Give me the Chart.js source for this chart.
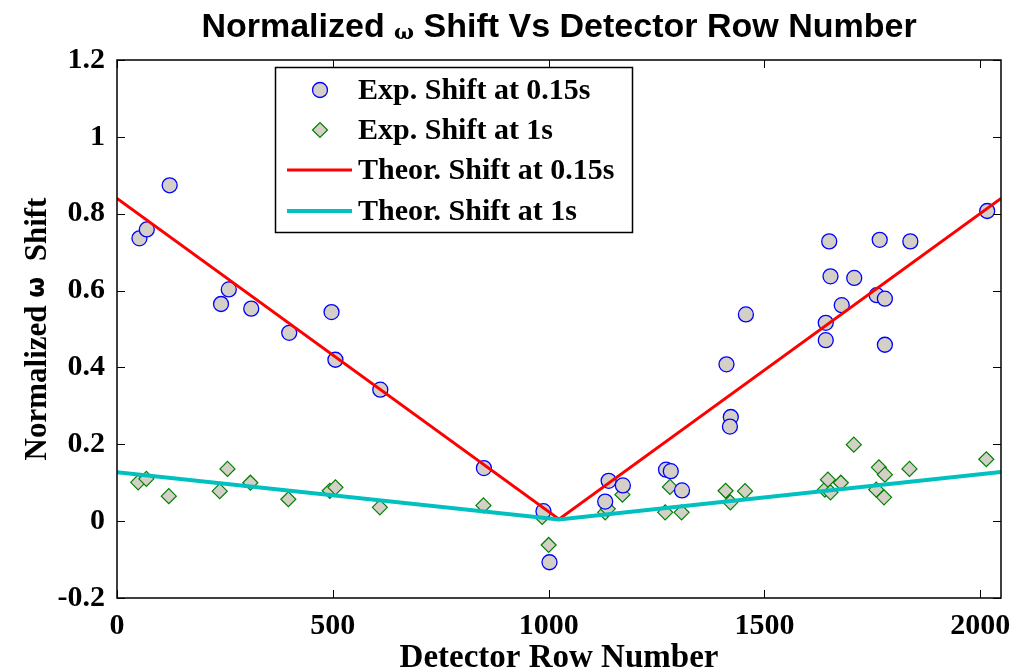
<!DOCTYPE html>
<html lang="en">
<head>
<meta charset="UTF-8">
<title>Normalized ω Shift Vs Detector Row Number</title>
<script src="https://cdn.jsdelivr.net/npm/chart.js@4.4.0/dist/chart.umd.min.js"></script>
<style>
  body { margin: 0; background: #fff; }
</style>
</head>
<body>
<canvas id="shiftChart" width="1015" height="672"></canvas>
<script>
  // experimental shift at 0.15s (circles)
  const rowsFast = [52, 69, 122, 241, 259, 311, 399, 497, 506, 610, 850, 988, 1002, 1139, 1131, 1172, 1272, 1283, 1309,
    1412, 1422, 1420, 1457, 1650, 1653, 1708, 1679, 1642, 1642, 1767, 1760, 1779, 1779, 1838, 2016];
  const shiftFast = [0.736, 0.759, 0.874, 0.565, 0.603, 0.553, 0.490, 0.544, 0.420, 0.342, 0.138, 0.026, -0.107, 0.105, 0.051, 0.093, 0.134, 0.130, 0.080,
    0.408, 0.271, 0.246, 0.538, 0.728, 0.637, 0.633, 0.562, 0.516, 0.471, 0.732, 0.588, 0.579, 0.459, 0.728, 0.807];

  // experimental shift at 1s (diamonds)
  const rowsSlow = [49, 68, 120, 238, 256, 309, 397, 493, 506, 609, 849, 985, 1000, 1131, 1137, 1171, 1270, 1281, 1308,
    1410, 1421, 1455, 1640, 1647, 1653, 1677, 1707, 1765, 1779, 1759, 1777, 1836, 2014];
  const shiftSlow = [0.101, 0.110, 0.065, 0.078, 0.136, 0.100, 0.057, 0.079, 0.088, 0.036, 0.041, 0.011, -0.062, 0.023, 0.032, 0.069, 0.023, 0.089, 0.023,
    0.079, 0.049, 0.078, 0.082, 0.108, 0.075, 0.100, 0.199, 0.140, 0.121, 0.082, 0.062, 0.136, 0.161];

  // theoretical curves
  const theoryRows = [0, 1024, 2048];
  const theoryFast = [0.84, 0.005, 0.84];
  const theorySlow = [0.127, 0.004, 0.128];

  const xTicks = [0, 500, 1000, 1500, 2000];
  const yTicks = [-0.2, 0, 0.2, 0.4, 0.6, 0.8, 1, 1.2];

  const seriesLabels = ['Exp. Shift at 0.15s', 'Exp. Shift at 1s', 'Theor. Shift at 0.15s', 'Theor. Shift at 1s'];

  const markerFill = 'rgb(212,208,200)';
  const serif = '"Liberation Serif", "Times New Roman", serif';
  const sans = '"Liberation Sans", Arial, sans-serif';

  function pairs(xs, ys) {
    return xs.map((x, i) => ({ x: x, y: ys[i] }));
  }

  // draws a line of text made of pieces with different fonts, centred on cx
  function drawPieces(ctx, pieces, cx, cy) {
    let total = 0;
    pieces.forEach(p => { ctx.font = p.font; total += ctx.measureText(p.text).width; });
    let x = cx - total / 2;
    ctx.textAlign = 'left';
    ctx.textBaseline = 'alphabetic';
    pieces.forEach(p => {
      ctx.font = p.font;
      ctx.fillText(p.text, x, cy + (p.dy || 0));
      x += ctx.measureText(p.text).width;
    });
  }

  const framePlugin = {
    id: 'frame',
    afterDatasetsDraw(chart) {
      const ctx = chart.ctx;
      const a = chart.chartArea;
      const xs = chart.scales.x, ys = chart.scales.y;
      ctx.save();
      ctx.strokeStyle = '#000';
      ctx.lineWidth = 1.5;
      ctx.strokeRect(a.left, a.top, a.right - a.left, a.bottom - a.top);

      // inward ticks on all four sides
      ctx.lineWidth = 1;
      ctx.beginPath();
      xs.ticks.forEach(t => {
        const px = Math.round(xs.getPixelForValue(t.value)) + 0.5;
        ctx.moveTo(px, a.bottom); ctx.lineTo(px, a.bottom - 8);
        ctx.moveTo(px, a.top); ctx.lineTo(px, a.top + 8);
      });
      ys.ticks.forEach(t => {
        const py = Math.round(ys.getPixelForValue(t.value)) + 0.5;
        ctx.moveTo(a.left, py); ctx.lineTo(a.left + 8, py);
        ctx.moveTo(a.right, py); ctx.lineTo(a.right - 8, py);
      });
      ctx.stroke();

      // legend box
      const lx = 275, ly = 67, lw = 357, lh = 165;
      ctx.fillStyle = '#fff';
      ctx.fillRect(lx, ly, lw, lh);
      ctx.strokeStyle = '#000';
      ctx.lineWidth = 1.5;
      ctx.strokeRect(lx + 0.5, ly + 0.5, lw, lh);
      const rows = [90, 130, 170, 211];
      chart.data.datasets.forEach((ds, i) => {
        const y = rows[i];
        if (ds.showLine) {
          ctx.strokeStyle = ds.borderColor;
          ctx.lineWidth = ds.borderWidth;
          ctx.beginPath();
          ctx.moveTo(287, y); ctx.lineTo(352, y);
          ctx.stroke();
        } else {
          ctx.fillStyle = ds.backgroundColor;
          ctx.strokeStyle = ds.borderColor;
          ctx.lineWidth = ds.borderWidth;
          Chart.helpers.drawPoint(ctx, { pointStyle: ds.pointStyle, radius: ds.pointRadius, borderWidth: ds.borderWidth }, 320, y);
        }
        ctx.fillStyle = '#000';
        ctx.font = 'bold 30px ' + serif;
        ctx.textAlign = 'left';
        ctx.textBaseline = 'middle';
        ctx.fillText(ds.label, 358, y + 1);
      });

      // titles
      ctx.fillStyle = '#000';
      const cx = (a.left + a.right) / 2;
      drawPieces(ctx, [
        { text: 'Normalized ', font: 'bold 34px ' + sans },
        { text: 'ω', font: 'bold 21px "DejaVu Serif", serif', dy: 2 },
        { text: ' Shift Vs Detector Row Number', font: 'bold 34px ' + sans }
      ], cx, 37);

      drawPieces(ctx, [{ text: 'Detector Row Number', font: 'bold 33px ' + serif }], cx, 667);

      ctx.translate(46, (a.top + a.bottom) / 2);
      ctx.rotate(-Math.PI / 2);
      drawPieces(ctx, [
        { text: 'Normalized ', font: 'bold 31px ' + serif },
        { text: 'ω', font: 'bold 24px "DejaVu Sans", sans-serif', dy: -2 },
        { text: '  Shift', font: 'bold 31px ' + serif }
      ], 0, 0);
      ctx.restore();
    }
  };

  new Chart(document.getElementById('shiftChart'), {
    type: 'scatter',
    data: {
      datasets: [{
        label: seriesLabels[0],
        data: pairs(rowsFast, shiftFast),
        pointStyle: 'circle',
        pointRadius: 7.5,
        backgroundColor: markerFill,
        borderColor: '#0000ff',
        borderWidth: 1.3,
        showLine: false,
        order: 2
      }, {
        label: seriesLabels[1],
        data: pairs(rowsSlow, shiftSlow),
        pointStyle: 'rectRot',
        pointRadius: 7.5,
        backgroundColor: markerFill,
        borderColor: 'rgb(0,128,0)',
        borderWidth: 1.2,
        showLine: false,
        order: 2
      }, {
        label: seriesLabels[2],
        data: pairs(theoryRows, theoryFast),
        showLine: true,
        borderColor: '#ff0000',
        borderWidth: 3,
        pointRadius: 0,
        fill: false,
        order: 1
      }, {
        label: seriesLabels[3],
        data: pairs(theoryRows, theorySlow),
        showLine: true,
        borderColor: '#00c0c0',
        borderWidth: 4,
        pointRadius: 0,
        fill: false,
        order: 0
      }]
    },
    options: {
      responsive: false,
      animation: false,
      layout: { padding: { left: 0, top: 60, right: 14, bottom: 0 } },
      plugins: {
        legend: { display: false },
        title: { display: false },
        tooltip: { enabled: false }
      },
      scales: {
        x: {
          type: 'linear',
          min: 0,
          max: 2048,
          afterBuildTicks: s => { s.ticks = xTicks.map(v => ({ value: v })); },
          afterFit: s => { s.height = 74; s.paddingLeft = 0; s.paddingRight = 0; },
          grid: { display: false, drawTicks: false },
          border: { display: false },
          ticks: {
            padding: 10,
            color: '#000',
            font: { family: serif, size: 30, weight: 'bold' },
            maxRotation: 0,
            callback: v => String(v)
          }
        },
        y: {
          type: 'linear',
          min: -0.2,
          max: 1.2,
          afterBuildTicks: s => { s.ticks = yTicks.map(v => ({ value: v })); },
          afterFit: s => { s.width = 117; s.paddingTop = 0; s.paddingBottom = 0; },
          grid: { display: false, drawTicks: false },
          border: { display: false },
          ticks: {
            padding: 12,
            color: '#000',
            font: { family: serif, size: 30, weight: 'bold' },
            callback: v => String(Number(v.toFixed(1)))
          }
        }
      }
    },
    plugins: [framePlugin]
  });
</script>
</body>
</html>
